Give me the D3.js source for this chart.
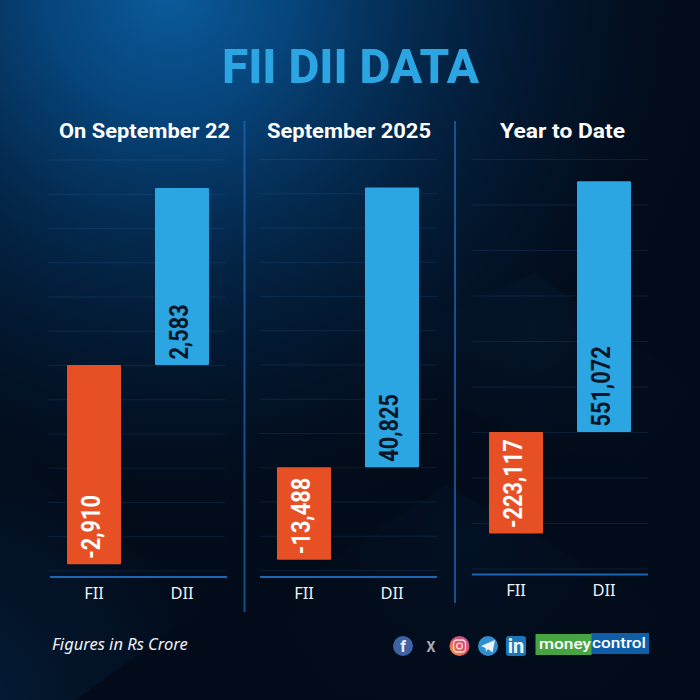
<!DOCTYPE html>
<html>
<head>
<meta charset="utf-8">
<style>
html,body{margin:0;padding:0;background:#020b19;}
svg{display:block;}
</style>
<script src="https://cdn.jsdelivr.net/npm/d3@7/dist/d3.min.js"></script>
</head>
<body>
<svg id="c" width="700" height="700"></svg>
<script>
const chartTitle = "FII DII DATA";
const footnote = "Figures in Rs Crore";
const categories = ["FII", "DII"];
const panelTitles = ["On September 22", "September 2025", "Year to Date"];
const fiiValues = [-2910, -13488, -223117];
const diiValues = [2583, 40825, 551072];
const gridSteps = [500, 5000, 100000];
const domainTops = [3000, 45000, 600000];
const domainBottoms = [-3000, -15000, -300000];

const svg = d3.select("#c");
const defs = svg.append("defs");
const W = 700, H = 700;
const SANS = "Roboto, 'Noto Sans', sans-serif";
const BODY = "'Noto Sans', 'Open Sans', sans-serif";
const BLUE = "#2ba6e2", ORANGE = "#e65024", LINE = "#1d66b4";

/* ---------- background ---------- */
function radial(id, cx, cy, r, stops){
  const g = defs.append("radialGradient").attr("id", id).attr("gradientUnits","userSpaceOnUse")
    .attr("cx",cx).attr("cy",cy).attr("r",r);
  stops.forEach(s => g.append("stop").attr("offset",s[0]).attr("stop-color",s[1]).attr("stop-opacity",s[2]));
}
radial("glowTop", 170, -10, 560, [[0,"#0b5c9c",1],[0.22,"#074a84",0.92],[0.5,"#04305a",0.68],[0.78,"#031c38",0.36],[1,"#020b19",0]]);
radial("glowLeft", -40, 700, 280, [[0,"#06294d",0.6],[0.7,"#041c36",0.28],[1,"#020b19",0]]);
radial("peak", 535, 330, 190, [[0,"#06223f",0.4],[1,"#020b19",0]]);
radial("glowRight", 470, 540, 240, [[0,"#052040",0.3],[1,"#020b19",0]]);
svg.append("rect").attr("width",W).attr("height",H).attr("fill","#020b19");
svg.append("rect").attr("width",W).attr("height",H).attr("fill","url(#glowTop)");
const lineBg = d3.line();
svg.append("path").attr("d", lineBg([[0,700],[0,437],[60,500],[150,560],[223,594],[75,700]])+"Z").attr("fill","url(#glowLeft)");
svg.append("path").attr("d", lineBg([[535,272],[700,393],[700,470],[535,450],[400,370],[450,312]])+"Z").attr("fill","url(#peak)");
svg.append("path").attr("d", lineBg([[446,485],[700,630],[700,700],[230,700],[330,560]])+"Z").attr("fill","url(#glowRight)");

/* ---------- headline ---------- */
svg.append("text").attr("x",350.5).attr("y",83).attr("text-anchor","middle")
  .attr("font-family",SANS).attr("font-weight",800).attr("font-size",49)
  .attr("textLength",257).attr("lengthAdjust","spacingAndGlyphs")
  .attr("fill",BLUE).text(chartTitle);

/* ---------- panels ---------- */
const panelX = [[50,226],[260,436],[472,648]];
const gridX = [[48,225],[260,437],[472,648]];
const rangeY = [[159.5,570.5],[159,570],[159,568.5]];
const axisY = [577,577,574.5];
const titleX = [144.5,349,562.5];
const titleW = [171,164,125];
const labelFmt = d3.format(",");
const signedLabel = v => labelFmt(v).replace("\u2212","-");

panelTitles.forEach((title,i)=>{
  const x = d3.scaleBand().domain(categories).range(panelX[i]).paddingInner(0.386).paddingOuter(0.193);
  const y = d3.scaleLinear().domain([domainTops[i],domainBottoms[i]]).range(rangeY[i]);
  const rows = categories.map((c,k)=>({c, v: k===0 ? fiiValues[i] : diiValues[i]}));
  const g = svg.append("g");

  const gridAxis = d3.axisLeft(y).tickValues(d3.range(domainBottoms[i],domainTops[i]+1,gridSteps[i]))
    .tickSize(-(gridX[i][1]-gridX[i][0])).tickFormat("");
  const gg = g.append("g").attr("transform",`translate(${gridX[i][0]},0)`).call(gridAxis);
  gg.select(".domain").remove();
  gg.selectAll("line").attr("stroke","#3f7fc4").attr("stroke-opacity",0.16).attr("stroke-width",1);

  g.selectAll("rect.bar").data(rows).join("rect").attr("class","bar")
    .attr("x",d=>x(d.c)).attr("width",x.bandwidth())
    .attr("y",d=>Math.min(y(0),y(d.v))).attr("height",d=>Math.abs(y(d.v)-y(0)))
    .attr("rx",1).attr("fill",d=>d.v<0?ORANGE:BLUE);

  g.selectAll("text.val").data(rows).join("text").attr("class","val")
    .attr("transform",d=>`translate(${x(d.c)+x.bandwidth()/2+6},${Math.max(y(0),y(d.v))-5.5}) rotate(-90) scale(0.87,1)`)
    .attr("font-family",SANS).attr("font-weight",700).attr("font-size",25)
    .attr("fill",d=>d.v<0?"#ffffff":"#081526").text(d=>signedLabel(d.v));

  const xAxis = d3.axisBottom(x).tickSize(0).tickPadding(10);
  const xg = g.append("g").attr("transform",`translate(0,${axisY[i]})`).call(xAxis);
  xg.select(".domain").remove();
  xg.selectAll("text").attr("font-family",BODY).attr("font-size",16.5).attr("fill","#eef2f6");
  g.append("line").attr("x1",gridX[i][0]+(i===0?2:0)).attr("x2",gridX[i][1]+(i===0?2:0))
    .attr("y1",axisY[i]).attr("y2",axisY[i]).attr("stroke",LINE).attr("stroke-width",2);

  g.append("text").attr("x",titleX[i]).attr("y",138).attr("text-anchor","middle")
    .attr("font-family",SANS).attr("font-weight",700).attr("font-size",21)
    .attr("textLength",titleW[i]).attr("lengthAdjust","spacingAndGlyphs")
    .attr("fill","#ffffff").text(title);
});

/* ---------- dividers ---------- */
[[244.5,612],[455,603]].forEach(d=>{
  svg.append("line").attr("x1",d[0]).attr("x2",d[0]).attr("y1",121).attr("y2",d[1])
    .attr("stroke",LINE).attr("stroke-opacity",0.75).attr("stroke-width",2);
});

/* ---------- footer ---------- */
svg.append("text").attr("x",52).attr("y",650).attr("font-family",BODY).attr("font-style","italic")
  .attr("font-size",16.5).attr("fill","#eef2f6").text(footnote);

const ig = defs.append("linearGradient").attr("id","insta").attr("x1",0).attr("y1",1).attr("x2",1).attr("y2",0);
ig.append("stop").attr("offset",0).attr("stop-color","#f2a03c");
ig.append("stop").attr("offset",0.55).attr("stop-color","#e0506a");
ig.append("stop").attr("offset",1).attr("stop-color","#b95aa8");

const icons = svg.append("g");
icons.append("circle").attr("cx",403).attr("cy",646).attr("r",10).attr("fill","#3f62a5");
icons.append("text").attr("x",403).attr("y",652).attr("text-anchor","middle").attr("font-family",SANS)
  .attr("font-weight",700).attr("font-size",16).attr("fill","#e8eef8").text("f");
icons.append("text").attr("x",431).attr("y",651.5).attr("text-anchor","middle").attr("font-family",SANS)
  .attr("font-weight",700).attr("font-size",14).attr("fill","#a9adb3").text("X");
icons.append("circle").attr("cx",459.5).attr("cy",646).attr("r",10).attr("fill","url(#insta)");
icons.append("rect").attr("x",453.5).attr("y",640).attr("width",12).attr("height",12).attr("rx",3.5)
  .attr("fill","none").attr("stroke","#f6e2e2").attr("stroke-width",1.3);
icons.append("circle").attr("cx",459.5).attr("cy",646).attr("r",2.8).attr("fill","none").attr("stroke","#f6e2e2").attr("stroke-width",1.2);
icons.append("circle").attr("cx",488).attr("cy",646).attr("r",10).attr("fill","#2f8fd0");
icons.append("path").attr("d","M481 646 L495 640 L492.5 652.5 L488 649 L486 651.5 L485.5 648 Z").attr("fill","#e8f3fb");
icons.append("rect").attr("x",506).attr("y",636).attr("width",20).attr("height",20).attr("rx",3).attr("fill","#1a78b8");
icons.append("text").attr("x",516).attr("y",653).attr("text-anchor","middle").attr("font-family",SANS)
  .attr("font-weight",700).attr("font-size",20).attr("fill","#f2f7fb").text("in");

const logo = svg.append("g");
logo.append("rect").attr("x",591).attr("y",633).attr("width",58).attr("height",21).attr("fill","#0e5fa8");
logo.append("rect").attr("x",535.5).attr("y",634).attr("width",56).attr("height",21).attr("fill","#46a542");
logo.append("text").attr("x",539).attr("y",648.5).attr("font-family",SANS).attr("font-weight",500).attr("font-size",15)
  .attr("textLength",52).attr("lengthAdjust","spacingAndGlyphs").attr("fill","#ffffff").text("money");
logo.append("text").attr("x",592).attr("y",648).attr("font-family",SANS).attr("font-weight",500).attr("font-size",15)
  .attr("textLength",54).attr("lengthAdjust","spacingAndGlyphs").attr("fill","#ffffff").text("control");
</script>
</body>
</html>
